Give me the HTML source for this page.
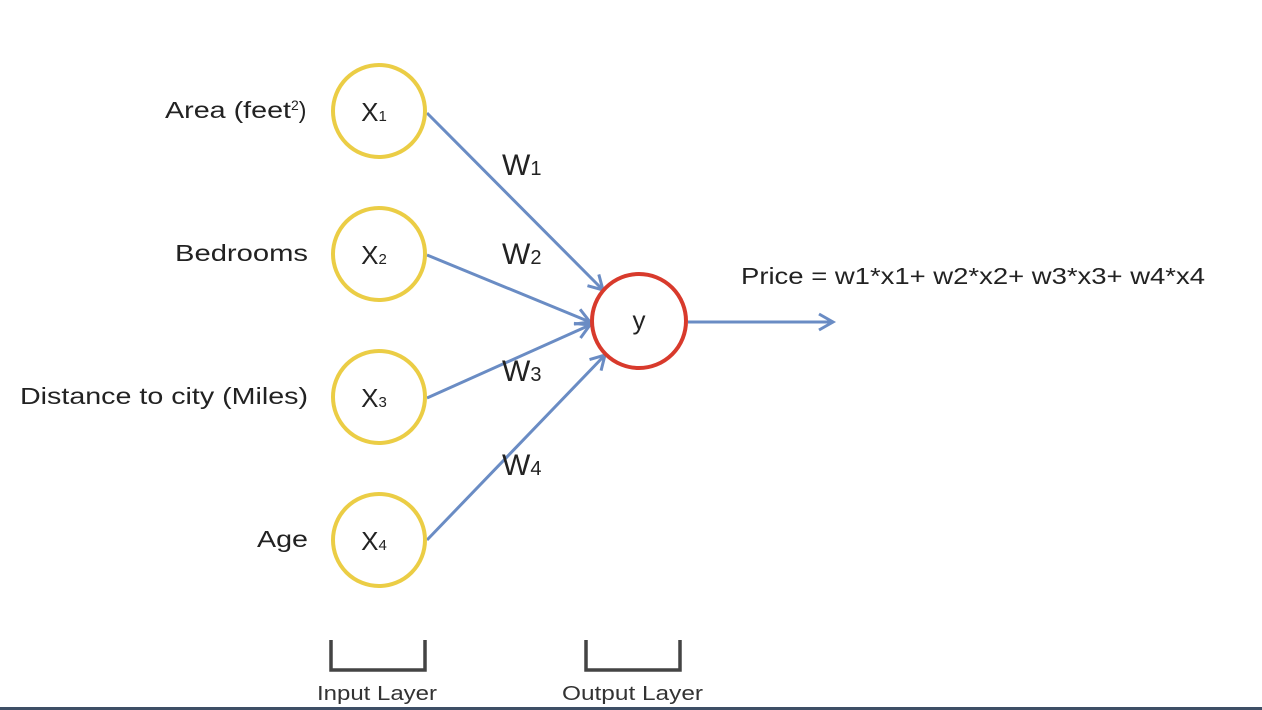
<!DOCTYPE html>
<html><head><meta charset="utf-8"><style>
body{margin:0;background:#fff;width:1262px;height:710px;overflow:hidden}
svg{display:block;font-family:"Liberation Sans",sans-serif}
</style></head><body>
<svg width="1262" height="710">
<defs><marker id="ah" markerWidth="20" markerHeight="20" refX="15" refY="8" orient="auto" markerUnits="userSpaceOnUse" style="overflow:visible"><path d="M1,0 L15,8 L1,16" fill="none" stroke="#6a8cc4" stroke-width="3"/></marker></defs>
<g stroke="#6a8cc4" stroke-width="3" fill="none">
<line x1="427" y1="113" x2="603" y2="290" marker-end="url(#ah)"/>
<line x1="427" y1="255" x2="590" y2="322" marker-end="url(#ah)"/>
<line x1="427" y1="398" x2="590" y2="325" marker-end="url(#ah)"/>
<line x1="427" y1="540" x2="605" y2="355" marker-end="url(#ah)"/>
<line x1="688" y1="322" x2="833" y2="322" marker-end="url(#ah)"/>
</g>
<g fill="#fff" stroke="#ebcd45" stroke-width="4">
<circle cx="379" cy="111" r="46"/>
<circle cx="379" cy="254" r="46"/>
<circle cx="379" cy="397" r="46"/>
<circle cx="379" cy="540" r="46"/>
</g>
<circle cx="639" cy="321" r="47" fill="#fff" stroke="#d83a2c" stroke-width="4"/>
<g font-size="26" fill="#222" text-anchor="middle">
<text x="374" y="121">X<tspan font-size="15">1</tspan></text>
<text x="374" y="264">X<tspan font-size="15">2</tspan></text>
<text x="374" y="407">X<tspan font-size="15">3</tspan></text>
<text x="374" y="550">X<tspan font-size="15">4</tspan></text>
<text x="639" y="329">y</text>
</g>
<g font-size="23" fill="#222">
<text x="165" y="118"><tspan textLength="126" lengthAdjust="spacingAndGlyphs">Area (feet</tspan><tspan font-size="14" dy="-8">2</tspan><tspan dy="8">)</tspan></text>
<text x="175" y="261" textLength="133" lengthAdjust="spacingAndGlyphs">Bedrooms</text>
<text x="20" y="404" textLength="288" lengthAdjust="spacingAndGlyphs">Distance to city (Miles)</text>
<text x="257" y="547" textLength="51" lengthAdjust="spacingAndGlyphs">Age</text>
</g>
<g font-size="30" fill="#222">
<text x="502" y="175">W<tspan font-size="20">1</tspan></text>
<text x="502" y="264">W<tspan font-size="20">2</tspan></text>
<text x="502" y="381">W<tspan font-size="20">3</tspan></text>
<text x="502" y="475">W<tspan font-size="20">4</tspan></text>
</g>
<text x="741" y="284" font-size="23" fill="#222" textLength="464" lengthAdjust="spacingAndGlyphs">Price = w1*x1+ w2*x2+ w3*x3+ w4*x4</text>
<g fill="none" stroke="#444" stroke-width="3.5">
<path d="M331,640 V670 H425 V640"/>
<path d="M586,640 V670 H680 V640"/>
</g>
<g font-size="20" fill="#333">
<text x="317" y="700" textLength="120" lengthAdjust="spacingAndGlyphs">Input Layer</text>
<text x="562" y="700" textLength="141" lengthAdjust="spacingAndGlyphs">Output Layer</text>
</g>
<rect x="0" y="707" width="1262" height="3" fill="#3e4f66"/>
</svg>
</body></html>
